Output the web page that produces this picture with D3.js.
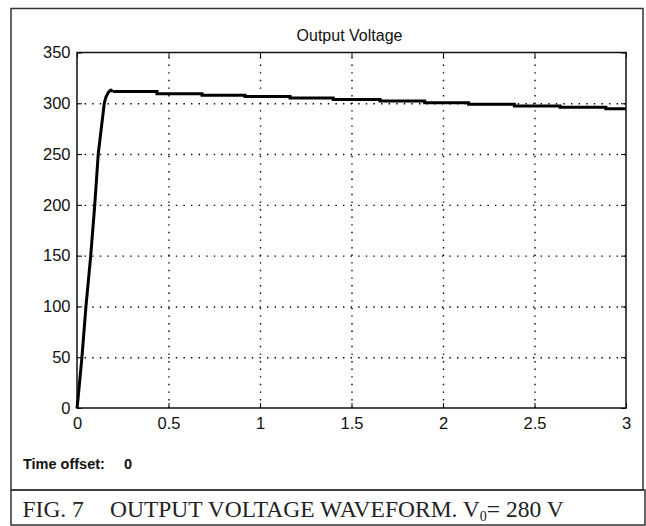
<!DOCTYPE html>
<html>
<head>
<meta charset="utf-8">
<script src="https://cdn.jsdelivr.net/npm/d3@7"></script>
<style>
  body { margin: 0; background: #fff; }
  svg text { font-family: "Liberation Sans", Arial, sans-serif; }
</style>
</head>
<body>
<main></main>
<script>
// rise of the output voltage (s, V)
const riseTime = [0, 0.005, 0.027, 0.049, 0.075, 0.097, 0.116, 0.149, 0.158, 0.172, 0.184, 0.197];
const riseVolt = [0, 8, 50, 100, 150, 200, 250, 300, 306, 311, 313, 311.5];

// slowly falling plateau, held between samples
const stepTime = [0.197, 0.437, 0.683, 0.918, 1.164, 1.40, 1.656, 1.90, 2.14, 2.39, 2.64, 2.89, 3.0];
const stepVolt = [311.5, 309.5, 308.0, 306.6, 305.3, 303.7, 302.2, 300.5, 299.0, 297.4, 296.0, 294.6, 294.6];

const xTicks = [0, 0.5, 1, 1.5, 2, 2.5, 3];
const yTicks = [0, 50, 100, 150, 200, 250, 300, 350];

const W = 646, H = 526;
const mLeft = 77, mTop = 52.5, pw = 549, ph = 355.5;

const svg = d3.select('main').append('svg')
    .attr('width', W)
    .attr('height', H);

svg.append('rect').attr('width', W).attr('height', H).attr('fill', '#fff');

// figure frame + caption box
svg.append('rect')
    .attr('x', 11).attr('y', 8.5).attr('width', 632).attr('height', 481.5)
    .attr('fill', 'none').attr('stroke', '#333').attr('stroke-width', 1.5);
svg.append('path')
    .attr('d', 'M11,490V525H645V490H11')
    .attr('fill', 'none').attr('stroke', '#333').attr('stroke-width', 1.5);

let x = d3.scaleLinear().domain([0, 3]).range([0, pw]);
let y = d3.scaleLinear().domain([0, 350]).range([ph, 0]);

const g = svg.append('g').attr('transform', 'translate(' + mLeft + ',' + mTop + ')');

// dotted grid
g.append('g')
    .attr('class', 'grid')
    .call(d3.axisLeft(y).tickValues(yTicks.slice(1, -1)).tickSize(-pw).tickFormat(''))
    .call(s => s.select('.domain').remove());
g.append('g')
    .attr('class', 'grid')
    .attr('transform', 'translate(0,' + ph + ')')
    .call(d3.axisBottom(x).tickValues(xTicks.slice(1, -1)).tickSize(-ph).tickFormat(''))
    .call(s => s.select('.domain').remove());
g.selectAll('.grid line')
    .attr('stroke', '#000')
    .attr('stroke-width', 1.4)
    .attr('stroke-dasharray', '1.4,6.2');

// ticks on all four sides, pointing in
let xAxis = d3.axisBottom(x).tickValues(xTicks).tickSizeInner(-5).tickSizeOuter(0)
    .tickPadding(9).tickFormat(d3.format('~g'));
let yAxis = d3.axisLeft(y).tickValues(yTicks).tickSizeInner(-5).tickSizeOuter(0)
    .tickPadding(6.5);

g.append('g').attr('transform', 'translate(0,' + ph + ')').call(xAxis);
g.append('g').call(yAxis);
g.append('g').call(d3.axisTop(x).tickValues(xTicks).tickSizeInner(-5).tickSizeOuter(0).tickFormat(''));
g.append('g').attr('transform', 'translate(' + pw + ',0)')
    .call(d3.axisRight(y).tickValues(yTicks).tickSizeInner(-5).tickSizeOuter(0).tickFormat(''));

g.selectAll('.tick text')
    .attr('font-size', 16.5)
    .attr('fill', '#111');
g.selectAll('.domain').remove();

g.append('rect')
    .attr('width', pw).attr('height', ph)
    .attr('fill', 'none').attr('stroke', '#111').attr('stroke-width', 1.5);

// voltage trace
const rise = riseTime.map((t, i) => ({ t: t, v: riseVolt[i] }));
const steps = stepTime.map((t, i) => ({ t: t, v: stepVolt[i] }));

g.append('path')
    .datum(rise)
    .attr('fill', 'none')
    .attr('stroke', '#000')
    .attr('stroke-width', 3)
    .attr('stroke-linejoin', 'round')
    .attr('d', d3.line().x(d => x(d.t)).y(d => y(d.v)));

g.append('path')
    .datum(steps)
    .attr('fill', 'none')
    .attr('stroke', '#000')
    .attr('stroke-width', 3)
    .attr('d', d3.line().curve(d3.curveStepAfter).x(d => x(d.t)).y(d => y(d.v)));

// title
svg.append('text')
    .attr('x', mLeft + pw / 2 - 2)
    .attr('y', 40.5)
    .attr('text-anchor', 'middle')
    .attr('font-size', 16)
    .attr('fill', '#111')
    .text('Output Voltage');

const off = svg.append('text')
    .attr('x', 23)
    .attr('y', 469)
    .attr('font-size', 14.5)
    .attr('font-weight', 'bold')
    .attr('fill', '#111');
off.append('tspan').text('Time offset:');
off.append('tspan').attr('x', 124).text('0');

// caption
const cap = svg.append('text')
    .attr('y', 516.5)
    .attr('font-size', 23.5)
    .attr('fill', '#222')
    .style('font-family', '"Liberation Serif", "Times New Roman", serif');
cap.append('tspan').attr('x', 22.5).text('FIG. 7');
cap.append('tspan').attr('x', 110).text('OUTPUT VOLTAGE WAVEFORM. V');
cap.append('tspan').attr('font-size', 14).attr('dy', 4).text('0');
cap.append('tspan').attr('dy', -4).text('= 280 V');
</script>
</body>
</html>
